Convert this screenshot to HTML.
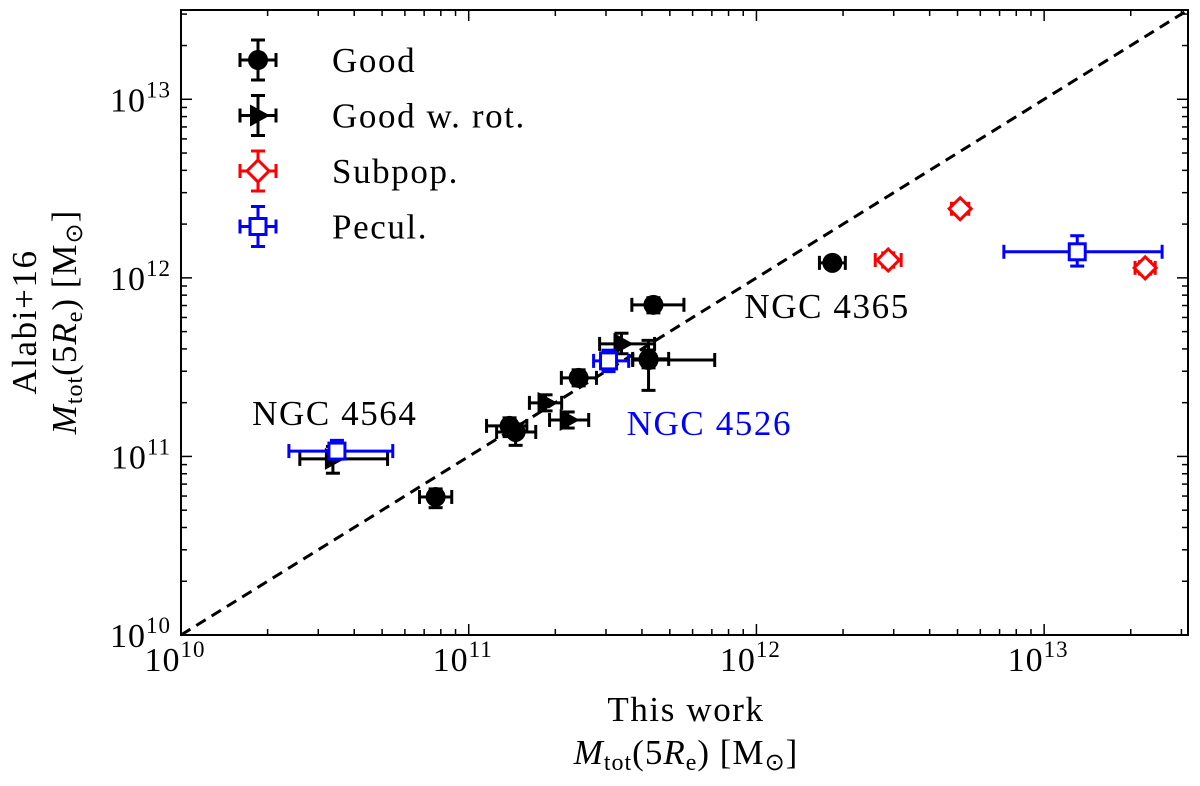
<!DOCTYPE html>
<html><head><meta charset="utf-8"><style>
html,body{margin:0;padding:0;background:#fff}
svg{display:block}
text{font-family:"Liberation Serif",serif}
</style></head><body>
<svg id="chart" width="1200" height="786" viewBox="0 0 1200 786" xmlns="http://www.w3.org/2000/svg"></svg>
<script>
// categories per point, log10 masses, errors in dex (lo, hi)
const groups = ["good","good","good","good","good","good","good","good","rot","rot","rot","rot","sub","sub","sub","pec","pec","pec"];
const xVals = [10.885,11.142,11.163,11.382,11.642,11.625,11.625,12.264,11.267,11.344,11.531,10.528,12.458,12.708,13.351,10.542,11.486,13.115];
const yVals = [10.773,11.171,11.137,11.440,11.849,11.546,11.540,12.084,11.300,11.204,11.630,10.986,12.100,12.387,12.056,11.030,11.535,12.146];
const xErrLo = [0.056,0.080,0.066,0.060,0.075,0.055,0.055,0.045,0.056,0.063,0.076,0.115,0.045,0.030,0.035,0.167,0.052,0.255];
const xErrHi = [0.056,0.060,0.070,0.062,0.106,0.070,0.230,0.045,0.056,0.073,0.115,0.190,0.045,0.030,0.035,0.194,0.070,0.295];
const yErrLo = [0.060,0.060,0.075,0.045,0.045,0.050,0.170,0.030,0.045,0.045,0.055,0.080,0.040,0.030,0.035,0.045,0.060,0.080];
const yErrHi = [0.045,0.045,0.045,0.045,0.040,0.050,0.110,0.030,0.045,0.045,0.060,0.070,0.040,0.030,0.035,0.060,0.060,0.090];
const xTicks = [10,11,12,13];
const yTicks = [10,11,12,13];
const annLabels = ["NGC 4564","NGC 4365","NGC 4526"];
const annX = [10.247,11.958,11.549];
const annY = [11.176,11.776,11.120];
const annColor = ["#000","#000","#0000ff"];

const L=181,R=1188,T=10,B=635,XMIN=10,XMAX=13.5,YMIN=10,YMAX=13.5;
const sx=v=>L+(v-XMIN)/(XMAX-XMIN)*(R-L);
const sy=v=>B-(v-YMIN)/(YMAX-YMIN)*(B-T);
const svg=document.getElementById('chart');
const NS="http://www.w3.org/2000/svg";
function mk(tag,attrs,parent){const e=document.createElementNS(NS,tag);for(const k in attrs)e.setAttribute(k,attrs[k]);(parent||svg).appendChild(e);return e;}
const FS=35, LS='1.6px';

const dl=mk('line',{x1:sx(10),y1:sy(10),x2:sx(13.5),y2:sy(13.5),stroke:'#000','stroke-width':3,'stroke-dasharray':'11,7'});



const style={good:{c:'#000',m:'circle',fill:'#000'},rot:{c:'#000',m:'tri',fill:'#000'},sub:{c:'#ff0000',m:'diamond',fill:'#fff'},pec:{c:'#0000ff',m:'square',fill:'#fff'}};
function marker(g,x,y,s,name){
  let e;
  if(s.m==='circle') e=mk('circle',{cx:x,cy:y,r:10,fill:s.fill},g);
  else if(s.m==='tri') e=mk('polygon',{points:`${x+12},${y} ${x-8},${y-11} ${x-8},${y+11}`,fill:s.fill},g);
  else if(s.m==='diamond') e=mk('polygon',{points:`${x},${y-11} ${x+11},${y} ${x},${y+11} ${x-11},${y}`,fill:s.fill,stroke:s.c,'stroke-width':3},g);
  else e=mk('rect',{x:x-8,y:y-8,width:16,height:16,fill:s.fill,stroke:s.c,'stroke-width':3},g);
  
  
}
function errbar(g,x,y,x1,x2,y1,y2,c){
  const a={stroke:c,'stroke-width':3};
  mk('line',Object.assign({x1:x1,y1:y,x2:x2,y2:y},a),g);
  mk('line',Object.assign({x1:x,y1:y1,x2:x,y2:y2},a),g);
  mk('line',Object.assign({x1:x1,y1:y-7,x2:x1,y2:y+7},a),g);
  mk('line',Object.assign({x1:x2,y1:y-7,x2:x2,y2:y+7},a),g);
  mk('line',Object.assign({x1:x-7,y1:y1,x2:x+7,y2:y1},a),g);
  mk('line',Object.assign({x1:x-7,y1:y2,x2:x+7,y2:y2},a),g);
}
for(let i=0;i<xVals.length;i++){
  const s=style[groups[i]];
  const g=mk('g',{});
  
  
  const x=sx(xVals[i]),y=sy(yVals[i]);
  errbar(g,x,y,sx(xVals[i]-xErrLo[i]),sx(xVals[i]+xErrHi[i]),sy(yVals[i]+yErrHi[i]),sy(yVals[i]-yErrLo[i]),s.c);
  marker(g,x,y,s,'marker');
}
for(let i=0;i<annLabels.length;i++){
  const t=mk('text',{x:sx(annX[i]),y:sy(annY[i]),'font-size':FS,'letter-spacing':LS,fill:annColor[i]});
  t.textContent=annLabels[i];
  
  
}
const fr=mk('rect',{x:L,y:T,width:R-L,height:B-T,fill:'none',stroke:'#000','stroke-width':2});


const tg=mk('g',{stroke:'#000','stroke-width':1.5});


for(let d=10;d<13.5;d++){
  for(let k=1;k<10;k++){
    const v=d+Math.log10(k); if(v>13.5) break;
    const len=k===1?11:6;
    const X=sx(v),Y=sy(v);
    mk('line',{x1:X,y1:B,x2:X,y2:B-len},tg);mk('line',{x1:X,y1:T,x2:X,y2:T+len},tg);
    mk('line',{x1:L,y1:Y,x2:L+len,y2:Y},tg);mk('line',{x1:R,y1:Y,x2:R-len,y2:Y},tg);
  }
}
xTicks.forEach(v=>{
  const t=mk('text',{x:sx(v)-6,y:B+36,'font-size':34,'letter-spacing':'1px','text-anchor':'middle'});
  t.innerHTML='10<tspan dy="-14" font-size="23">'+v+'</tspan>';
  
  
});
yTicks.forEach(v=>{
  const t=mk('text',{x:L-10,y:sy(v)+12,'font-size':34,'letter-spacing':'1px','text-anchor':'end'});
  t.innerHTML='10<tspan dy="-14" font-size="23">'+v+'</tspan>';
  
  
});
const unitHTML='<tspan font-style="italic">M</tspan><tspan font-size="24" dy="6">tot</tspan><tspan dy="-6">(5</tspan><tspan font-style="italic">R</tspan><tspan font-size="24" dy="6">e</tspan><tspan dy="-6">) [M</tspan><tspan font-size="24" dy="6">⊙</tspan><tspan dy="-6">]</tspan>';
let t=mk('text',{x:686,y:721,'font-size':FS,'letter-spacing':LS,'text-anchor':'middle'});t.textContent='This work';

t=mk('text',{x:686,y:764,'font-size':FS,'letter-spacing':'1px','text-anchor':'middle'});
t.innerHTML=unitHTML;

t=mk('text',{x:0,y:0,'font-size':FS,'letter-spacing':LS,'text-anchor':'middle',transform:'translate(36,322) rotate(-90)'});t.textContent='Alabi+16';

t=mk('text',{x:0,y:0,'font-size':FS,'letter-spacing':'1px','text-anchor':'middle',transform:'translate(76,322) rotate(-90)'});
t.innerHTML=unitHTML;

const legKeys=["good","rot","sub","pec"];
const legLabels=["Good","Good w. rot.","Subpop.","Pecul."];
legKeys.forEach((k,i)=>{
  const g=mk('g',{});
  
  
  const x=258,y=60+i*55.5,s=style[k];
  errbar(g,x,y,x-18,x+18,y-20,y+20,s.c);
  marker(g,x,y,s,'legend-marker');
  const tx=mk('text',{x:332,y:y+12,'font-size':FS,'letter-spacing':LS},g);tx.textContent=legLabels[i];
});
</script>
</body></html>
